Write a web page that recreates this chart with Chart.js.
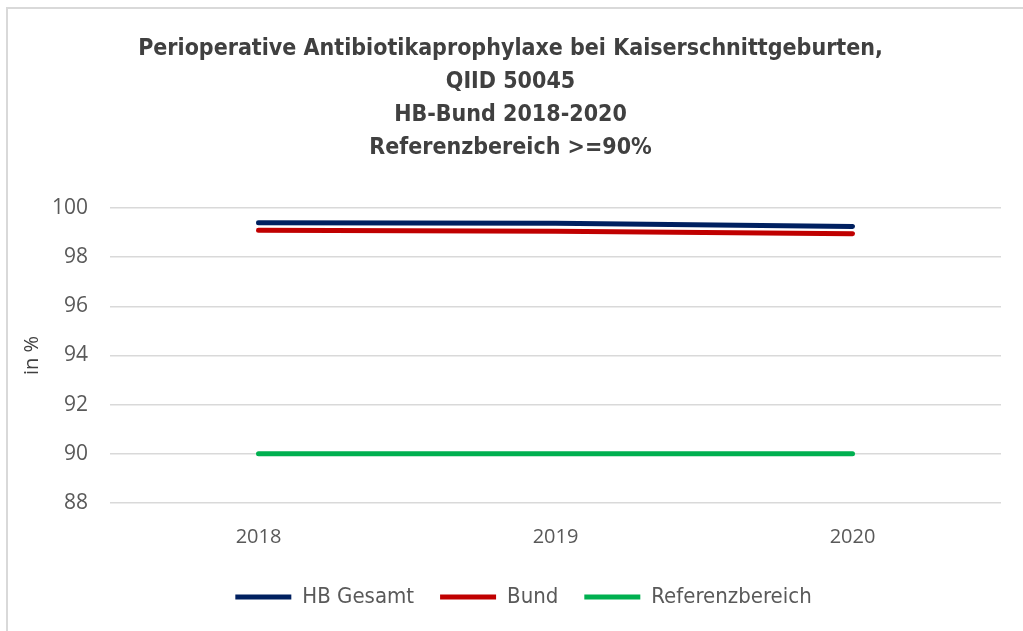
<!DOCTYPE html>
<html lang="de">
<head>
    <meta charset="UTF-8">
    <title>QIID 50045</title>
    <script src="https://cdn.jsdelivr.net/npm/chart.js"></script>
    <style>
        body{
            margin: 0;
            padding: 0;
            background-color: #ffffff;
        }
        .chart-container {
            width: 1023px;
            height: 631px;
        }
    </style>
</head>
<body>
    <div class="chart-container">
        <canvas id="myChart"></canvas>
    </div>
    <script>
        const labels = ['2018', '2019', '2020'];
        const hbGesamt = [99.4, 99.38, 99.25];
        const bund = [99.1, 99.05, 98.95];
        const referenz = [90, 90, 90];

        const titleLines = [
            'Perioperative Antibiotikaprophylaxe bei Kaiserschnittgeburten,',
            'QIID 50045',
            'HB-Bund 2018-2020',
            'Referenzbereich >=90%'
        ];

        const narrow = '"DejaVu Sans Condensed", "Liberation Sans Narrow", sans-serif';

        // light grey frame, only left + top are visible in the picture
        const frame = {
            id: 'frame',
            beforeDraw(chart) {
                const c = chart.ctx;
                c.save();
                c.strokeStyle = '#d9d9d9';
                c.lineWidth = 2;
                c.beginPath();
                c.moveTo(7, 640);
                c.lineTo(7, 8);
                c.lineTo(1030, 8);
                c.stroke();
                c.restore();
            }
        };

        // legend sits a bit right of centre in the original
        const legendShift = {
            id: 'legendShift',
            afterLayout(chart) {
                const lg = chart.legend;
                lg.left += 13;
                lg.right += 13;
                lg.top -= 3;
                lg.bottom -= 3;
            }
        };

        const ctx = document.getElementById('myChart');

        new Chart(ctx, {
            type: 'line',
            data: {
                labels: labels,
                datasets: [{
                    label: 'HB Gesamt',
                    data: hbGesamt,
                    borderColor: '#002060',
                    backgroundColor: '#002060',
                    borderWidth: 5,
                    borderCapStyle: 'round',
                    pointRadius: 0,
                    pointStyle: 'line'
                }, {
                    label: 'Bund',
                    data: bund,
                    borderColor: '#c00000',
                    backgroundColor: '#c00000',
                    borderWidth: 5,
                    borderCapStyle: 'round',
                    pointRadius: 0,
                    pointStyle: 'line'
                }, {
                    label: 'Referenzbereich',
                    data: referenz,
                    borderColor: '#00b050',
                    backgroundColor: '#00b050',
                    borderWidth: 5,
                    borderCapStyle: 'round',
                    pointRadius: 0,
                    pointStyle: 'line'
                }]
            },
            options: {
                responsive: true,
                maintainAspectRatio: false,
                animation: false,
                layout: {
                    padding: { left: 20, right: 22, top: 33, bottom: 10 }
                },
                plugins: {
                    title: {
                        display: true,
                        text: titleLines,
                        color: '#404040',
                        font: { family: narrow, size: 23, weight: 'bold', lineHeight: 1.435 },
                        padding: { top: 0, bottom: 43 }
                    },
                    legend: {
                        position: 'bottom',
                        labels: {
                            usePointStyle: true,
                            pointStyleWidth: 56,
                            color: '#595959',
                            font: { family: narrow, size: 22 },
                            padding: 26
                        }
                    },
                    tooltip: { enabled: false }
                },
                scales: {
                    x: {
                        offset: true,
                        grid: { display: false },
                        border: { display: false },
                        ticks: {
                            color: '#595959',
                            font: { family: '"Open Sans", sans-serif', size: 20 },
                            padding: 14
                        }
                    },
                    y: {
                        min: 88,
                        max: 100,
                        ticks: {
                            stepSize: 2,
                            color: '#595959',
                            font: { family: '"Open Sans", sans-serif', size: 21 },
                            padding: 22
                        },
                        grid: {
                            color: '#d9d9d9',
                            lineWidth: 1.5,
                            drawTicks: false
                        },
                        border: { display: false },
                        title: {
                            display: true,
                            text: 'in %',
                            color: '#404040',
                            font: { family: '"Open Sans", sans-serif', size: 20 },
                            padding: { top: 0, bottom: -14 }
                        }
                    }
                }
            },
            plugins: [frame, legendShift]
        });
    </script>
</body>
</html>
